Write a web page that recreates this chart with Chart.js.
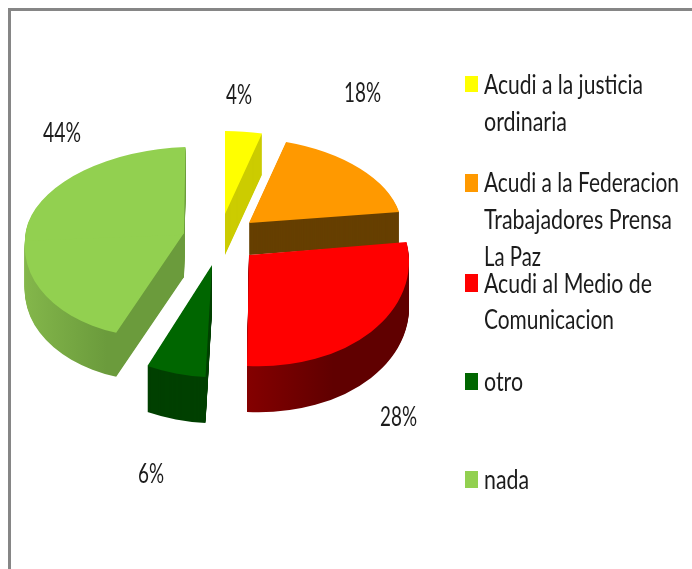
<!DOCTYPE html>
<html>
<head>
<meta charset="utf-8">
<style>
html,body{margin:0;padding:0;background:#fff;overflow:hidden}
#wrap{position:relative;width:692px;height:569px}
#frame{position:absolute;left:8px;top:8px;right:0;bottom:0;border-left:3px solid #868686;border-top:3px solid #868686}
canvas{position:absolute;left:0;top:0}
</style>
<script src="https://cdn.jsdelivr.net/npm/chart.js@4"></script>
</head>
<body>
<div id="wrap"><div id="frame"></div><canvas id="c" width="692" height="569"></canvas></div>
<script>
const categories = ["Acudi a la justicia ordinaria","Acudi a la Federacion Trabajadores Prensa La Paz","Acudi al Medio de Comunicacion","otro","nada"];
const values = [4,18,28,6,44];
const percentLabels = ["4%","18%","28%","6%","44%"];
const topColors = ["#ffff00","#ff9900","#ff0000","#006600","#92d050"];
const legendLines = [["Acudi a la justicia","ordinaria"],["Acudi a la Federacion","Trabajadores Prensa","La Paz"],["Acudi al Medio de","Comunicacion"],["otro"],["nada"]];

// styling of the pseudo-3D look (positions, projections, side shades)
const FONT = '27px Lato,"Open Sans",sans-serif';
const projection = [
  {ax:225,ay:214,depth:41,side:"#cccc00",parts:[{u:149,v:0,cx:0,cy:83}]},
  {ax:249,ay:223,depth:32,side:"#663f00",parts:[{u:153,v:5,cx:1,cy:85}]},
  {ax:249,ay:255,depth:46,side:[[247,"#850000"],[335,"#600000"]],parts:[{u:160,v:8,cx:-2,cy:111}]},
  {ax:212,ay:265,depth:46,side:"#004000",parts:[{u:159,v:8.6,cx:-6.5,cy:112}]},
  {ax:184,ay:233,depth:44,side:[[26,"#84b74b"],[116,"#6b9b3c"]],parts:[
     {u:159,v:-6,cx:-1.5,cy:86,clip:"up"},
     {u:159,v:-6,cx:-10,cy:105,clip:"down"}]}
];
const drawOrder = [0,1,4,3,2];
const labelPos = [[239,104,26],[362.5,102,37],[398.5,426,37],[151,483,26],[62,142,38]];
const legendPos = [
  {box:[465,76,13,16],lines:[[484,94,159],[484,131,83]]},
  {box:[465,174,13,18],lines:[[484,192,195],[484,229,188],[484,266,57]]},
  {box:[465,274,13,18],lines:[[484,293,168],[484,329,130]]},
  {box:[465,373,13,17],lines:[[484,391,39]]},
  {box:[465,471,13,17],lines:[[484,489,45]]}
];

const pie3d = {
  id:"pie3d",
  beforeDatasetsDraw(chart){
    const ctx = chart.ctx;
    const arcs = chart.getDatasetMeta(0).data;
    const paint = (arc, p, part, fill, dy) => {
      const R = arc.outerRadius;
      ctx.save();
      ctx.transform(part.u/R, part.v/R, part.cx/R, part.cy/R, p.ax, p.ay+dy);
      ctx.translate(-arc.x,-arc.y);
      if(part.clip){
        ctx.beginPath();
        if(part.clip==="up") ctx.rect(arc.x-2*R,arc.y-2*R,4*R,2*R+6);
        else ctx.rect(arc.x-2*R,arc.y,4*R,2*R);
        ctx.clip();
      }
      let style = fill;
      if(Array.isArray(fill)){
        const x0 = arc.x+(fill[0][0]-p.ax)*R/part.u, x1 = arc.x+(fill[1][0]-p.ax)*R/part.u;
        style = ctx.createLinearGradient(x0,0,x1,0);
        style.addColorStop(0,fill[0][1]); style.addColorStop(1,fill[1][1]);
      }
      const o = arc.options;
      arc.options = Object.assign({},o,{backgroundColor:style,borderWidth:0});
      arc.draw(ctx);
      arc.options = o;
      ctx.restore();
    };
    drawOrder.forEach(i=>{
      const p = projection[i], arc = arcs[i];
      for(let d=p.depth;d>=1;d--) p.parts.slice().reverse().forEach(part=>paint(arc,p,part,p.side,d));
      p.parts.slice().reverse().forEach(part=>paint(arc,p,part,topColors[i],0));
    });
    return false;
  },
  afterDraw(chart){
    const ctx = chart.ctx;
    ctx.save();
    ctx.font = FONT; ctx.fillStyle = "#1c1c1c"; ctx.textBaseline = "alphabetic";
    ctx.textAlign = "center";
    percentLabels.forEach((t,i)=>ctx.fillText(t,labelPos[i][0],labelPos[i][1],labelPos[i][2]));
    ctx.textAlign = "left";
    legendPos.forEach((e,i)=>{
      ctx.fillStyle = topColors[i];
      ctx.fillRect(...e.box);
      ctx.fillStyle = "#1c1c1c";
      e.lines.forEach((l,j)=>ctx.fillText(legendLines[i][j],l[0],l[1],l[2]));
    });
    ctx.restore();
  }
};

new Chart(document.getElementById("c"),{
  type:"pie",
  data:{labels:categories,datasets:[{data:values,backgroundColor:topColors,borderWidth:0}]},
  options:{
    responsive:false,animation:false,
    plugins:{legend:{display:false},tooltip:{enabled:false},title:{display:false}}
  },
  plugins:[pie3d]
});
</script>
</body>
</html>
